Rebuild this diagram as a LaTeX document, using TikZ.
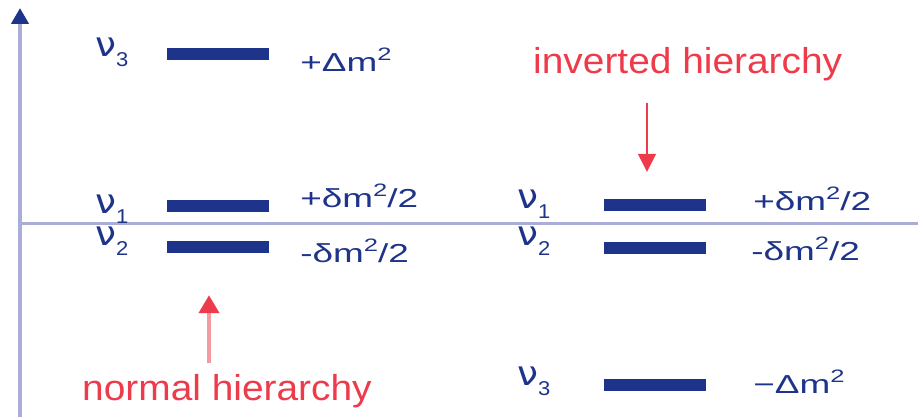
\documentclass[tikz,border=0pt]{standalone}
\usepackage{fontspec}
\setmainfont{Liberation Sans}
\newfontfamily\nufont{DejaVu Sans}
\usetikzlibrary{positioning,arrows.meta}
\definecolor{levelblue}{HTML}{1E338A}
\definecolor{axisblue}{HTML}{AAADD8}
\definecolor{hierred}{HTML}{EE3B4B}
\definecolor{hierpink}{HTML}{F49AA3}
\newcommand{\nulev}[1]{{\nufont\fontsize{34}{34}\selectfont ν}\raisebox{-10pt}[0pt][0pt]{\fontsize{20}{20}\selectfont #1}}
\newcommand{\msq}{m\raisebox{11pt}{\fontsize{18}{18}\selectfont 2}}
\tikzset{
  level/.style={fill=levelblue,inner sep=0pt,minimum width=102pt,minimum height=12pt},
  nulab/.style={text=levelblue,inner sep=0pt,anchor=base west,xscale=1.1},
  masslab/.style={text=levelblue,inner sep=0pt,anchor=base west,xscale=1.42,font=\fontsize{26}{26}\selectfont},
  hierlab/.style={text=hierred,inner sep=0pt,anchor=base west,xscale=1.08,font=\fontsize{36}{36}\selectfont},
}
\begin{document}
\begin{tikzpicture}[x=1pt,y=-1pt]
\useasboundingbox (0,0) rectangle (918,417);
% axes
\draw[axisblue,line width=4pt,-{Triangle[width=17pt,length=16pt,color=levelblue]}] (20,417)--(20,8);
\draw[axisblue,line width=2.5pt] (20,223.5)--(918,223.5);
% normal hierarchy
\node[level] (n3) at (217.5,54.5) {};
\node[level] (n1) at (217.5,205.5) {};
\node[level] (n2) at (217.5,247) {};
\node[nulab] (nu3) at (95,57) {\nulev{3}};
\node[nulab] (nu1) at (95,213) {\nulev{1}};
\node[nulab] (nu2) at (95,245) {\nulev{2}};
\node[masslab] (m3) at (300,72) {+Δ\msq};
\node[masslab] (m1) at (300,207) {+δ\msq/2};
\node[masslab] (m2) at (300,262) {-δ\msq/2};
\node[hierlab] (nh) at (82,400) {normal hierarchy};
\coordinate (na) at (209,363);
\draw[hierpink,line width=4pt,shorten >=42pt,-{Triangle[width=20pt,length=18pt,color=hierred]}] (na) -- (na |- n2.south);
% inverted hierarchy
\node[level] (i1) at (654.5,205) {};
\node[level] (i2) at (654.5,247.5) {};
\node[level] (i3) at (654.5,384.5) {};
\node[nulab] (iu1) at (517,208) {\nulev{1}};
\node[nulab] (iu2) at (517,245) {\nulev{2}};
\node[nulab] (iu3) at (517,385) {\nulev{3}};
\node[masslab] (j1) at (753,210) {+δ\msq/2};
\node[masslab] (j2) at (751,260) {-δ\msq/2};
\node[masslab] (j3) at (753,393) {−Δ\msq};
\node[hierlab] (ih) at (533,74) {inverted hierarchy};
\coordinate (ia) at (647,103);
\draw[hierred,line width=1.5pt,shorten >=27pt,-{Triangle[width=18pt,length=18pt]}] (ia) -- (ia |- i1.north);
\end{tikzpicture}
\end{document}
